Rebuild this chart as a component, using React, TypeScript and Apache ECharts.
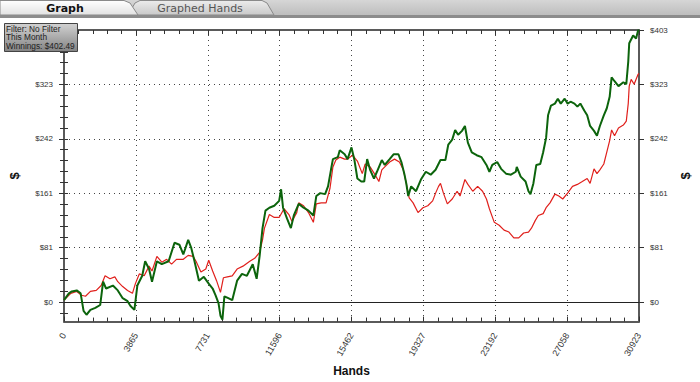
import React, { useEffect, useRef } from 'react';
import * as echarts from 'echarts';

// ---- data ----
const handsMax = 30923;
const xTickStep = 3865.375;
const yMin = -28.8;
const yMax = 402.49;
const yTickValues = [0, 80.5, 161, 241.5, 322, 402.49];
const yTickLabels = ['$0', '$81', '$161', '$242', '$323', '$403'];
const yMinorStep = 16.1;
const filterLines = ['Filter: No Filter', 'This Month', 'Winnings: $402.49'];

// [hand, winnings $]
const greenSeries: [number, number][] = [
  [0, 2.9], [263, 13.0], [421, 15.8], [684, 17.3], [894, 13.0], [1052, -13.0], [1210, -18.7], [1420, -11.5],
  [1683, -8.6], [1946, -4.3], [2104, 30.2], [2262, 20.1], [2630, 24.5], [2892, 17.3], [3155, 5.8], [3418, 1.4],
  [3576, -5.8], [3786, -11.5], [3944, 24.5], [4207, 38.9], [4365, 60.4], [4575, 48.9], [4733, 30.2], [4996, 60.4],
  [5259, 56.1], [5627, 60.4], [5943, 87.8], [6206, 84.9], [6416, 70.5], [6679, 92.1], [6837, 80.6], [6994, 63.3],
  [7257, 31.7], [7520, 37.4], [7783, 27.3], [7994, 20.1], [8152, 10.1], [8309, -1.4], [8415, -20.1], [8520, -25.9],
  [8625, 8.6], [8835, 5.8], [9046, 2.9], [9309, 31.7], [9572, 41.7], [9835, 38.9], [10150, 56.1], [10360, 34.5],
  [10518, 67.6], [10676, 109.4], [10834, 135.3], [11044, 139.6], [11307, 142.5], [11570, 149.7], [11675, 166.9],
  [11780, 139.6], [11991, 123.8], [12201, 109.4], [12359, 128.1], [12622, 145.3], [12885, 139.6], [13148, 135.3],
  [13410, 128.1], [13568, 156.9], [13779, 161.2], [14042, 159.7], [14199, 171.2], [14357, 195.7], [14462, 211.5],
  [14725, 214.4], [14830, 224.5], [15093, 218.7], [15251, 211.5], [15461, 228.8], [15619, 210.1], [15777, 182.8],
  [15987, 178.4], [16145, 178.4], [16303, 211.5], [16461, 195.7], [16671, 182.8], [16829, 192.8], [17092, 210.1],
  [17250, 202.9], [17512, 211.5], [17723, 218.7], [17986, 218.7], [18144, 207.2], [18301, 190.0], [18407, 175.6],
  [18512, 156.9], [18669, 171.2], [18932, 164.0], [19195, 181.3], [19458, 192.8], [19721, 188.5], [19984, 195.7],
  [20247, 210.1], [20510, 210.1], [20668, 233.1], [20878, 240.3], [21036, 254.7], [21194, 247.5], [21404, 253.3],
  [21562, 260.5], [21720, 236.0], [21930, 221.6], [22193, 217.3], [22456, 214.4], [22719, 202.9], [22877, 192.8],
  [23034, 202.9], [23297, 207.2], [23508, 197.1], [23771, 190.0], [24034, 188.5], [24297, 192.8], [24349, 200.0],
  [24560, 185.6], [24822, 178.4], [24980, 164.0], [25085, 159.7], [25243, 175.6], [25401, 202.9], [25611, 204.3],
  [25769, 221.6], [25927, 243.2], [26032, 276.3], [26190, 290.7], [26400, 293.6], [26558, 300.8], [26716, 293.6],
  [26926, 300.8], [27084, 293.6], [27242, 296.4], [27452, 293.6], [27610, 289.2], [27768, 293.6], [27978, 283.5],
  [28136, 276.3], [28293, 260.5], [28504, 253.3], [28662, 246.1], [28819, 260.5], [29030, 276.3], [29187, 286.4],
  [29345, 303.6], [29450, 332.4], [29608, 326.7], [29819, 319.5], [30081, 325.2], [30239, 322.3], [30344, 355.4],
  [30397, 382.8], [30607, 394.3], [30765, 390.0], [30870, 401.5], [30923, 402.49],
];

const redSeries: [number, number][] = [
  [0, 2.9], [368, 13.0], [684, 15.8], [947, 10.1], [1157, 8.6], [1420, 15.8], [1735, 17.3], [1998, 24.5],
  [2209, 38.9], [2472, 34.5], [2735, 37.4], [2892, 30.2], [3155, 23.0], [3418, 17.3], [3681, 13.0], [3839, 27.3],
  [4049, 41.7], [4312, 38.9], [4575, 53.2], [4733, 46.0], [4996, 67.6], [5259, 59.0], [5522, 63.3], [5785, 56.1],
  [6048, 63.3], [6416, 63.3], [6679, 69.1], [6942, 67.6], [7100, 60.4], [7363, 44.6], [7626, 48.9], [7783, 61.9],
  [7994, 46.0], [8204, 31.7], [8415, 14.4], [8572, 36.0], [8783, 37.4], [9046, 38.9], [9309, 48.9], [9624, 53.2],
  [9992, 60.4], [10255, 64.8], [10518, 73.4], [10676, 92.1], [10781, 109.4], [11044, 129.5], [11307, 125.2],
  [11570, 125.2], [11833, 138.1], [12096, 129.5], [12254, 119.4], [12517, 132.4], [12622, 146.8], [12885, 142.5],
  [13148, 132.4], [13410, 118.0], [13568, 145.3], [13831, 146.8], [14094, 146.8], [14305, 168.4], [14462, 200.0],
  [14620, 210.1], [14830, 214.4], [15093, 211.5], [15251, 211.5], [15514, 217.3], [15777, 208.7], [16040, 190.0],
  [16198, 204.3], [16461, 200.0], [16724, 188.5], [16934, 178.4], [17092, 195.7], [17250, 200.0], [17512, 207.2],
  [17775, 211.5], [18038, 207.2], [18249, 195.7], [18407, 175.6], [18564, 154.0], [18775, 146.8], [19038, 132.4],
  [19301, 139.6], [19563, 142.5], [19826, 149.7], [19984, 161.2], [20142, 171.2], [20247, 175.6], [20405, 161.2],
  [20615, 145.3], [20878, 152.5], [21141, 164.0], [21299, 156.9], [21562, 181.3], [21720, 174.1], [21983, 164.0],
  [22246, 171.2], [22509, 164.0], [22719, 152.5], [22877, 138.1], [23140, 118.0], [23403, 113.7], [23666, 106.5],
  [23928, 103.6], [24191, 95.0], [24454, 95.0], [24717, 102.2], [24980, 103.6], [25138, 109.4], [25348, 120.9],
  [25506, 128.1], [25769, 130.9], [25927, 139.6], [26137, 146.8], [26400, 159.7], [26611, 156.9], [26821, 152.5],
  [27084, 161.2], [27347, 171.2], [27610, 174.1], [27873, 178.4], [28136, 182.8], [28293, 175.6], [28504, 197.1],
  [28662, 190.0], [28819, 195.7], [29030, 204.3], [29187, 221.6], [29345, 238.9], [29450, 254.7], [29608, 246.1],
  [29819, 257.6], [30081, 261.9], [30239, 267.7], [30344, 293.6], [30397, 319.5], [30502, 329.5], [30660, 322.3],
  [30870, 336.7], [30923, 338.2],
];

const yMinorValues: number[] = [];
for (let v = -yMinorStep; v <= yMax + 0.001; v += yMinorStep) yMinorValues.push(Math.round(v * 100) / 100);

const labelFont = 'Liberation Sans';
const axisColor = '#5a5a5a';

function yLabel(v: number) {
  const i = yTickValues.findIndex((t) => Math.abs(t - v) < 0.05);
  return i >= 0 ? yTickLabels[i] : '';
}

export default function App() {
  const ref = useRef<HTMLDivElement>(null);
  useEffect(() => {
    const chart = echarts.init(ref.current!, null, { renderer: 'svg' });
    const majorY = (pos: 'left' | 'right') => ({
      type: 'value',
      position: pos,
      min: yMin,
      max: yMax,
      axisLine: { show: true, onZero: false, lineStyle: { color: axisColor, width: 2 } },
      axisTick: { show: true, inside: false, length: 5, customValues: yTickValues, lineStyle: { color: '#333' } },
      axisLabel: {
        show: true,
        // the left top label is hidden under the filter box in the reference
        customValues: pos === 'left' ? yTickValues.slice(0, -1) : yTickValues,
        formatter: yLabel,
        fontSize: 8,
        fontFamily: labelFont,
        color: '#333',
        margin: 11,
      },
      splitLine: { show: false },
      name: '$',
      nameLocation: 'middle',
      nameGap: pos === 'left' ? 43 : 40,
      nameRotate: 90,
      nameTextStyle: { fontWeight: 'bold', fontSize: 13, color: '#111', fontFamily: 'Liberation Sans' },
    });
    const minorY = (pos: 'left' | 'right') => ({
      type: 'value',
      position: pos,
      min: yMin,
      max: yMax,
      axisLine: { show: false },
      axisTick: { show: true, inside: true, length: 4, customValues: yMinorValues, lineStyle: { color: '#333' } },
      axisLabel: { show: false },
      splitLine: { show: false },
    });
    const xBase = (pos: 'top' | 'bottom') => ({
      type: 'value',
      position: pos,
      min: 0,
      max: handsMax,
      interval: xTickStep,
      axisLine: { show: true, onZero: false, lineStyle: { color: axisColor, width: 2 } },
      axisTick: { show: true, inside: true, length: 5, lineStyle: { color: '#333' } },
      minorTick: { show: true, splitNumber: 5, length: 4, lineStyle: { color: '#333' } },
    });

    const option: any = {
      animation: false,
      backgroundColor: '#ffffff',
      grid: { left: 60, right: 52, top: 30, bottom: 53, containLabel: false },
      xAxis: [
        {
          ...xBase('bottom'),
          axisLabel: {
            show: true,
            rotate: 60,
            fontSize: 9,
            fontFamily: labelFont,
            color: '#333',
            margin: 12,
            showMinLabel: true,
            showMaxLabel: true,
            formatter: (v: number) => String(Math.round(v)),
          },
          splitLine: { show: true, lineStyle: { color: '#444', type: [1, 4], width: 1 } },
          name: 'Hands',
          nameLocation: 'middle',
          nameGap: 39,
          nameTextStyle: { fontWeight: 'bold', fontSize: 12, color: '#111', fontFamily: 'Liberation Sans' },
        },
        {
          ...xBase('top'),
          axisLabel: { show: false },
          splitLine: { show: false },
        },
      ],
      yAxis: [majorY('left'), minorY('left'), majorY('right'), minorY('right')],
      series: [
        {
          type: 'line',
          name: 'Red',
          data: redSeries,
          xAxisIndex: 0,
          yAxisIndex: 0,
          showSymbol: false,
          symbol: 'none',
          z: 3,
          lineStyle: { color: '#e0201c', width: 1.2 },
          markLine: {
            silent: true,
            symbol: 'none',
            z: 1,
            label: { show: false },
            lineStyle: { color: '#444', type: [1, 4], width: 1 },
            data: [
              ...yTickValues.slice(1, -1).map((v) => ({ yAxis: v })),
              { yAxis: 0, lineStyle: { color: '#222', type: 'solid', width: 1 } },
            ],
          },
        },
        {
          type: 'line',
          name: 'Green',
          data: greenSeries,
          xAxisIndex: 0,
          yAxisIndex: 0,
          showSymbol: false,
          symbol: 'none',
          z: 4,
          lineStyle: { color: '#0c640c', width: 2 },
        },
      ],
      graphic: [
        {
          type: 'rect',
          z: 100,
          shape: { x: 0, y: 0, width: 700, height: 16 },
          style: {
            fill: new echarts.graphic.LinearGradient(0, 0, 0, 1, [
              { offset: 0, color: '#d6d6d6' },
              { offset: 1, color: '#bcbcbc' },
            ]),
          },
        },
        {
          type: 'polygon',
          z: 101,
          shape: { points: [[128, 15], [135, 3], [140, 0.5], [262, 0.5], [267, 3], [274, 15]] },
          style: {
            fill: new echarts.graphic.LinearGradient(0, 0, 0, 1, [
              { offset: 0, color: '#ececec' },
              { offset: 1, color: '#c9c9c9' },
            ]),
            stroke: '#8a8a8a',
            lineWidth: 1,
          },
        },
        {
          type: 'polygon',
          z: 102,
          shape: { points: [[0, 15], [0, 0.5], [124, 0.5], [130, 3], [138, 15]] },
          style: {
            fill: new echarts.graphic.LinearGradient(0, 0, 0, 1, [
              { offset: 0, color: '#ffffff' },
              { offset: 1, color: '#e2e2e2' },
            ]),
            stroke: '#8a8a8a',
            lineWidth: 1,
          },
        },
        {
          type: 'rect',
          z: 103,
          shape: { x: 0, y: 15, width: 700, height: 3 },
          style: { fill: '#8c8c8c' },
        },
        {
          type: 'text',
          z: 104,
          x: 65,
          y: 8,
          style: {
            text: 'Graph',
            fontSize: 11,
            fontWeight: 'bold',
            fontFamily: 'DejaVu Sans',
            fill: '#111',
            align: 'center',
            verticalAlign: 'middle',
          },
        },
        {
          type: 'text',
          z: 104,
          x: 200,
          y: 8,
          style: {
            text: 'Graphed Hands',
            fontSize: 11,
            fontFamily: 'DejaVu Sans',
            fill: '#555',
            align: 'center',
            verticalAlign: 'middle',
          },
        },
        {
          type: 'rect',
          z: 110,
          shape: { x: 4.5, y: 23.5, width: 73, height: 28 },
          style: {
            fill: new echarts.graphic.LinearGradient(0, 0, 0, 1, [
              { offset: 0, color: '#d2d2d2' },
              { offset: 1, color: '#838383' },
            ]),
            stroke: '#444',
            lineWidth: 1,
          },
        },
        ...filterLines.map((t, i) => ({
          type: 'text',
          z: 111,
          x: 6,
          y: 28.5 + i * 8.5,
          style: {
            text: t,
            fontSize: 8.3,
            fontFamily: labelFont,
            fill: '#222',
            align: 'left',
            verticalAlign: 'middle',
          },
        })),
      ],
    };
    chart.setOption(option);
    return () => chart.dispose();
  }, []);
  return (
    <div
      ref={ref}
      style={{ position: 'fixed', left: 0, top: 0, width: 700, height: 382, background: '#fff' }}
    />
  );
}
